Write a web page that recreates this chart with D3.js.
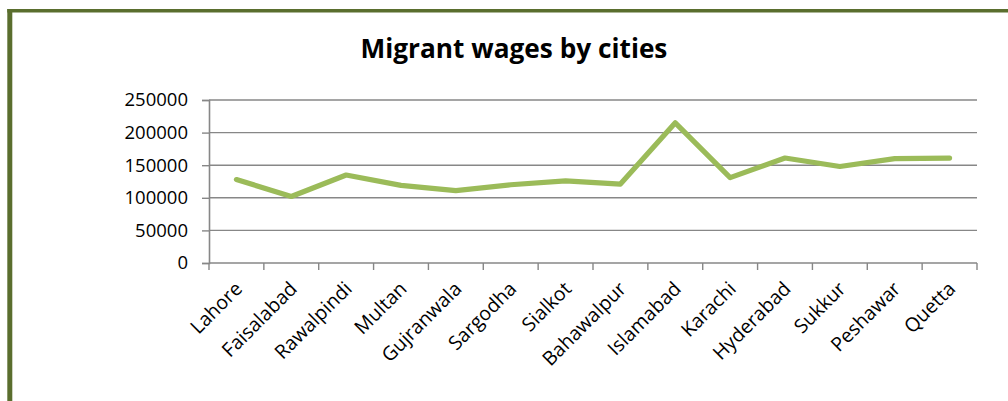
<!DOCTYPE html>
<html>
<head>
<meta charset="utf-8">
<script src="https://cdn.jsdelivr.net/npm/d3@7"></script>
<style>
  html, body { margin: 0; padding: 0; background: #fff; }
  svg { display: block; }
  text { font-family: "Open Sans", "Noto Sans", sans-serif; fill: #000; }
</style>
</head>
<body>
<svg id="chart" width="1008" height="401"></svg>
<script>
// Average monthly wages of migrant workers, by city
const cities = ["Lahore", "Faisalabad", "Rawalpindi", "Multan", "Gujranwala", "Sargodha",
  "Sialkot", "Bahawalpur", "Islamabad", "Karachi", "Hyderabad", "Sukkur", "Peshawar", "Quetta"];
const wages = [128000, 102000, 135000, 119000, 111000, 120000,
  126000, 121000, 215000, 131000, 161000, 148000, 160000, 161000];
const yTicks = [0, 50000, 100000, 150000, 200000, 250000];
const chartTitle = "Migrant wages by cities";

const W = 1008, H = 401;
const margin = { left: 209, right: 31, top: 100, bottom: 138 };
const svg = d3.select("#chart");

// chart frame: heavy olive border on top and left edges
svg.append("rect").attr("x", 7.3).attr("y", 9).attr("width", 5).attr("height", H - 9).attr("fill", "#5a6e2e");
svg.append("rect").attr("x", 7.3).attr("y", 9).attr("width", W - 7.3).attr("height", 3.5).attr("fill", "#5a6e2e");

const x = d3.scaleBand().domain(cities).range([margin.left, W - margin.right]).paddingInner(0).paddingOuter(0);
const y = d3.scaleLinear().domain([0, 250000]).range([H - margin.bottom, margin.top]);

const gridColor = "#878787";

// horizontal gridlines
svg.append("g").selectAll("line").data(yTicks.filter(d => d > 0)).join("line")
  .attr("x1", margin.left).attr("x2", W - margin.right)
  .attr("y1", d => y(d)).attr("y2", d => y(d))
  .attr("stroke", gridColor).attr("stroke-width", 1.4);

// y axis with outward ticks
const yAxis = svg.append("g").attr("transform", `translate(${margin.left},0)`)
  .call(d3.axisLeft(y).tickValues(yTicks).tickFormat(d3.format("d")).tickSize(7).tickPadding(14));
yAxis.select(".domain").attr("stroke", gridColor).attr("stroke-width", 1.6);
yAxis.selectAll(".tick line").attr("stroke", gridColor).attr("stroke-width", 1.4);
yAxis.selectAll(".tick text").attr("font-size", 18.5).attr("fill", "#000");

// x axis: baseline, ticks between categories, rotated labels
const baseY = y(0);
const boundaries = cities.map(c => x(c)).concat([x.range()[1]]);
svg.append("line").attr("x1", margin.left).attr("x2", x.range()[1])
  .attr("y1", baseY).attr("y2", baseY).attr("stroke", gridColor).attr("stroke-width", 1.6);
svg.append("g").selectAll("line").data(boundaries).join("line")
  .attr("x1", d => d).attr("x2", d => d).attr("y1", baseY).attr("y2", baseY + 7)
  .attr("stroke", gridColor).attr("stroke-width", 1.4);

const xAxis = svg.append("g").attr("transform", `translate(0,${baseY})`)
  .call(d3.axisBottom(x).tickSize(0).tickPadding(0));
xAxis.select(".domain").remove();
xAxis.selectAll(".tick text")
  .attr("font-size", 19.5).attr("fill", "#000")
  .attr("text-anchor", "end")
  .attr("dy", 0)
  .attr("transform", "translate(7,27) rotate(-45)");

// data line
const line = d3.line().x((d, i) => x(cities[i]) + x.bandwidth() / 2).y(d => y(d));
svg.append("path").datum(wages)
  .attr("d", line).attr("fill", "none")
  .attr("stroke", "#9bbb59").attr("stroke-width", 5.2)
  .attr("stroke-linejoin", "round").attr("stroke-linecap", "round");

// title, scaled to its box width
const title = svg.append("text").attr("x", 514).attr("y", 58)
  .attr("text-anchor", "middle").attr("font-weight", "bold").attr("font-size", 24)
  .text(chartTitle);
const tw = title.node().getComputedTextLength();
title.attr("font-size", 24 * 307 / tw);
</script>
</body>
</html>
